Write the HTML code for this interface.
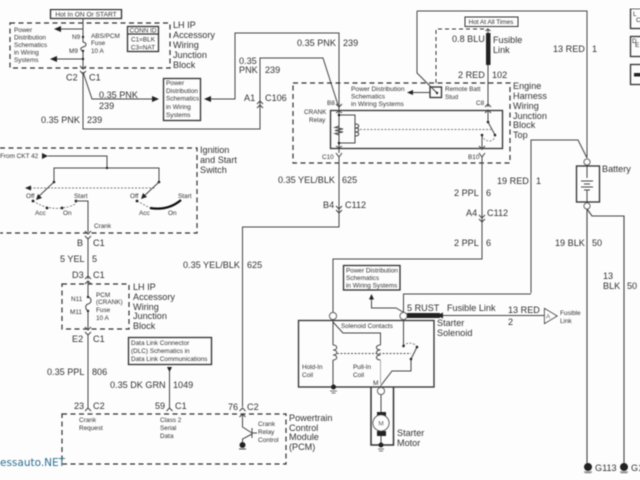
<!DOCTYPE html>
<html><head><meta charset="utf-8"><style>
html,body{margin:0;padding:0;background:#fff}
svg{display:block}
text{font-family:"Liberation Sans",sans-serif;fill:#333;font-size:9.1px}
.s{font-size:6.4px}
.m{font-size:6.6px}
.w{fill:none;stroke:#444;stroke-width:1}
.d{fill:none;stroke:#333;stroke-width:1.2;stroke-dasharray:5 3.5}
.t{fill:none;stroke:#555;stroke-width:.7;stroke-dasharray:2 1.5}
.b{fill:none;stroke:#333;stroke-width:1.3}
.k{fill:#222;stroke:none}
</style></head><body>
<svg width="640" height="480" viewBox="0 0 640 480" xmlns="http://www.w3.org/2000/svg">
<defs><filter id="f" x="0" y="0" width="100%" height="100%"><feGaussianBlur stdDeviation="0.4"/></filter></defs>
<rect width="640" height="480" fill="#fdfdfd"/>
<g filter="url(#f)">

<!-- top left block -->
<rect x="50.500" y="9.500" width="71" height="9" class="b"/>
<text x="86" y="16.500" text-anchor="middle" class="m">Hot In ON Or START</text>
<path d="M10 23H170V68H10Z" class="d"/>
<path d="M83 18V37M83 51V68M83 72V129H260V58H323L338 105M83 72L92 99H155M220 99H208M220 99H235V33H339V105" class="w"/>
<path d="M83 29H55M83 59H55" class="w"/>
<path class="k" d="M54 29L61 26V32ZM50 59L57 56V62ZM159 99L152 96V102ZM204 99L211 96V102Z"/>
<path d="M83 37V42C87 43 87 46 83 47C80 48 80 50 83 51" class="w"/>
<circle cx="83" cy="37" r="1.200" class="k"/><circle cx="83" cy="51" r="1.200" class="k"/><circle cx="83" cy="59" r="1.200" class="k"/>
<path d="M80 66L83 69L86 66M80 71L83 74L86 71" class="w"/>
<text x="14" y="32" class="s">Power</text><text x="14" y="39.500" class="s">Distribution</text><text x="14" y="47" class="s">Schematics</text><text x="14" y="54.500" class="s">in Wiring</text><text x="14" y="62" class="s">Systems</text>
<text x="72" y="39" class="s">N9</text><text x="69" y="53" class="s">M9</text>
<text x="91" y="38" class="s">ABS/PCM</text><text x="91" y="45" class="s">Fuse</text><text x="91" y="53" class="s">10 A</text>
<rect x="127.500" y="26.500" width="31" height="25" class="b"/><path d="M127.500 34H158.500" class="b"/>
<text x="143" y="32.500" text-anchor="middle" class="s">CONN ID</text><text x="143" y="41.500" text-anchor="middle" class="s">C1=BLK</text><text x="143" y="49.500" text-anchor="middle" class="s">C3=NAT</text>
<text x="173" y="28">LH IP</text><text x="173" y="38">Accessory</text><text x="173" y="48">Wiring</text><text x="173" y="58">Junction</text><text x="173" y="68">Block</text>
<text x="66" y="80.500">C2</text><text x="89" y="80.500">C1</text>
<text x="99" y="98">0.35 PNK</text><text x="99" y="109">239</text>
<text x="41" y="123">0.35 PNK</text><text x="87" y="123">239</text>
<rect x="163.500" y="78.500" width="37" height="42" class="b"/>
<text x="166" y="85" class="s">Power</text><text x="166" y="93" class="s">Distribution</text><text x="166" y="100.500" class="s">Schematics</text><text x="166" y="109" class="s">in Wiring</text><text x="166" y="117" class="s">Systems</text>

<!-- center labels -->
<text x="297" y="46">0.35 PNK</text><text x="343" y="46">239</text>
<text x="239" y="64">0.35</text><text x="239" y="73">PNK</text><text x="265" y="73">239</text>
<text x="244" y="101">A1</text><text x="265" y="101">C106</text>
<path d="M257 104L260 101L263 104M257 108L260 105L263 108" class="w"/>

<!-- engine block -->
<path d="M293 83H510V163H293Z" class="d"/>
<path d="M436 83V29H488" class="d" style="stroke-width:1;stroke-dasharray:4 3"/>
<rect x="330.500" y="110.500" width="172" height="38" class="b"/>
<path d="M339 105V153M339 158V190" class="w"/>
<path d="M336 104L339 107L342 104" class="w"/>
<path d="M339 115H355V143H339" class="w"/>
<path d="M355 124C360 124 360 128 355 128C360 128 360 132 355 132C360 132 360 136 355 136" class="w"/>
<path d="M339 126L335 127.500L343 129L335 130.500L343 132L335 133.500L339 135" class="w"/>
<circle cx="339" cy="115" r="1.300" class="k"/><circle cx="339" cy="143" r="1.300" class="k"/>
<path d="M336 113L339 111L342 113M336 146L339 148L342 146M336 153L339 157L342 153" class="w"/>
<path d="M360 129.500H491" class="t"/>
<text x="351" y="91" class="m">Power Distribution</text><text x="351" y="98.500" class="m">Schematics</text><text x="351" y="106" class="m">in Wiring Systems</text>
<path d="M408 92.500H430" class="w"/><path class="k" d="M407 92.500L413 90V95Z"/>
<text x="327" y="105" class="s">B8</text><text x="304" y="114" class="s">CRANK</text><text x="309" y="122" class="s">Relay</text><text x="322" y="159" class="s">C10</text>
<rect x="430" y="87" width="11.500" height="10.500" class="b"/>
<path d="M417 11V73L437 93M417 11H587V158" class="w"/>
<circle cx="437" cy="93" r="1.200" class="k"/>
<text x="445" y="91" class="s">Remote Batt</text><text x="445" y="99" class="s">Stud</text>

<rect x="465" y="17" width="53" height="9.500" class="b" style="stroke-width:1"/>
<text x="491" y="24" text-anchor="middle" class="s">Hot At All Times</text>
<path d="M488 29V33M488 65V107" class="w"/>
<rect x="486" y="33" width="4.500" height="32" class="k"/>
<path d="M485.500 31L488 29L490.500 31" class="w"/>
<text x="452" y="42">0.8 BLU</text><text x="493" y="43">Fusible</text><text x="493" y="53">Link</text>
<text x="458" y="78">2 RED</text><text x="492" y="78">102</text>
<text x="476" y="105" class="s">C8</text>
<path d="M485 107L488 104L491 107M485 113L488 110L491 113" class="w"/>
<path d="M488 110V122L495 135M482 135V150" class="w"/>
<path d="M482 135C484 143 495 143 495 135" class="t"/>
<circle cx="488" cy="122" r="1.300" class="k"/><circle cx="495" cy="135" r="1.300" class="k"/><circle cx="482" cy="135" r="1.300" class="k"/>
<path d="M479 146L482 149L485 146M479 153L482 157L485 153" class="w"/>
<text x="468" y="159" class="s">B10</text>
<text x="513" y="89">Engine</text><text x="513" y="99">Harness</text><text x="513" y="109">Wiring</text><text x="513" y="119">Junction</text><text x="513" y="128">Block</text><text x="513" y="138">Top</text>
<text x="553" y="52">13 RED</text><text x="592" y="52">1</text>

<!-- wires mid -->
<text x="278" y="183">0.35 YEL/BLK</text><text x="342" y="183">625</text>
<text x="323" y="208">B4</text><text x="345" y="208">C112</text>
<path d="M339 157V227H242.500V407" class="w"/>
<path d="M336 206L339 209L342 206M336 210L339 213L342 210" class="w"/>
<text x="183" y="268">0.35 YEL/BLK</text><text x="247" y="268">625</text>
<text x="454" y="196">2 PPL</text><text x="486" y="196">6</text>
<text x="466" y="216">A4</text><text x="487" y="216">C112</text>
<text x="454" y="246">2 PPL</text><text x="486" y="246">6</text>
<path d="M482 157V259H333V312" class="w"/>
<path d="M479 215L482 218L485 215M479 219L482 222L485 219" class="w"/>

<!-- Battery -->
<path d="M531 293V140H578L587 158" class="w"/>
<circle cx="587" cy="162" r="3" fill="#fff" stroke="#444"/>
<rect x="576.500" y="166" width="23" height="36" class="b"/>
<path d="M587 166V178M581 181H593M584 184H590M581 187H593M584 190H590M587 190V202" class="w"/>
<text x="602" y="172">Battery</text>
<circle cx="587" cy="206" r="3" fill="#fff" stroke="#444"/>
<text x="497" y="184">19 RED</text><text x="536" y="184">1</text>
<text x="555" y="246">19 BLK</text><text x="592" y="246">50</text>
<path d="M587 209V465M587 209L592 216H624V465" class="w" style="stroke-width:1.100"/>
<text x="603" y="279">13</text><text x="603" y="289">BLK</text><text x="627" y="289">50</text>
<path class="k" d="M584 467a4 4 0 0 1 8 0a4 4 0 0 1-8 0ZM620 467a4 4 0 0 1 8 0a4 4 0 0 1-8 0Z"/>
<path d="M584 472H592M585 473.500H591M620 472H628M621 473.500H627" class="w" style="stroke-width:.7"/>
<text x="595" y="471">G113</text><text x="631" y="471">G1</text>

<!-- right legend -->
<rect x="630.500" y="8.500" width="14" height="20" class="b"/><text x="633" y="16" class="s">L</text><text x="636" y="22" class="m">C</text>
<rect x="630.500" y="36.500" width="14" height="20" class="b"/><text x="632" y="43" class="s">D</text><text x="635" y="47" class="m">E</text>
<rect x="630.500" y="64.500" width="14" height="20" class="b"/><rect x="634" y="73" width="8" height="3.500" class="k"/>

<!-- Ignition -->
<path d="M0 148H197V233H0" class="d"/>
<text x="0" y="158" class="s">From CKT 42</text>
<path class="k" d="M48 156L42 153V159Z"/>
<path d="M48 156H107V168M54 182V168H159V182M54 182L37 198M159 182L142 198" class="w"/>
<circle cx="107" cy="168" r="1.200" class="k"/><circle cx="54" cy="182" r="1.300" class="k"/><circle cx="159" cy="182" r="1.300" class="k"/>
<path class="k" d="M36 200L38 194L42 198ZM141 199L143 193L147 197Z"/>
<path d="M30 188H155" class="t"/><path class="k" d="M25 188L31 185.500V190.500Z"/>
<path d="M33 201Q47 210 62 208T76 201M137 201L150 208" class="t"/>
<circle cx="33" cy="201" r="1.400" class="k"/><circle cx="47" cy="208" r="1.400" class="k"/><circle cx="62" cy="208" r="1.400" class="k"/><circle cx="76" cy="201" r="1.400" class="k"/><circle cx="137" cy="201" r="1.400" class="k"/>
<path d="M150 208Q168 211 181 200" fill="none" stroke="#111" stroke-width="2.200"/>
<text x="26" y="198" class="s">Off</text><text x="35" y="215" class="s">Acc</text><text x="63" y="215" class="s">On</text><text x="74" y="198" class="s">Start</text>
<text x="130" y="198" class="s">Off</text><text x="139" y="215" class="s">Acc</text><text x="168" y="215" class="s">On</text><text x="178" y="198" class="s">Start</text>
<path d="M76 201H88V232" class="w"/>
<text x="94" y="228" class="s">Crank</text>
<text x="200" y="153">Ignition</text><text x="200" y="163">and Start</text><text x="200" y="173">Switch</text>
<path d="M85 231L88 234L91 231M85 236L88 239L91 236" class="w"/>
<path d="M88 238V279" class="w"/>
<text x="77" y="246">B</text><text x="93" y="246">C1</text>
<text x="60" y="262">5 YEL</text><text x="92" y="262">5</text>
<text x="72" y="278">D3</text><text x="93" y="278">C1</text>
<path d="M85 279L88 276L91 279M85 284L88 281L91 284" class="w"/>

<!-- LH IP lower -->
<path d="M62 284H129V329H62Z" class="d"/>
<path d="M88 281V297C92 298 92 303 88 304C85 305 85 309 88 311V329" class="w"/>
<circle cx="88" cy="297" r="1.200" class="k"/><circle cx="88" cy="311" r="1.200" class="k"/>
<text x="71" y="301" class="s">N11</text><text x="70" y="314" class="s">M11</text>
<text x="96" y="297" class="s">PCM</text><text x="96" y="304" class="s">(CRANK)</text><text x="96" y="312" class="s">Fuse</text><text x="96" y="320" class="s">10 A</text>
<text x="133" y="290">LH IP</text><text x="133" y="300">Accessory</text><text x="133" y="310">Wiring</text><text x="133" y="319">Junction</text><text x="133" y="329">Block</text>
<path d="M85 327L88 330L91 327M85 332L88 335L91 332" class="w"/>
<path d="M88 334V408" class="w"/>
<text x="72" y="342">E2</text><text x="93" y="342">C1</text>
<text x="47" y="375">0.35 PPL</text><text x="92" y="375">806</text>
<text x="74" y="409">23</text><text x="93" y="409">C2</text>
<text x="155" y="409">59</text><text x="175" y="409">C1</text>
<text x="228" y="410">76</text><text x="247" y="410">C2</text>
<path d="M85 411L88 408L91 411M166.500 411L169.500 408L172.500 411M239.500 411L242.500 408L245.500 411M239.500 417L242.500 414L245.500 417" class="w"/>
<rect x="128.500" y="337.500" width="83" height="27" class="b"/>
<text x="131" y="345" class="s">Data Link Connector</text><text x="131" y="353" class="s">(DLC) Schematics in</text><text x="131" y="361" class="s">Data Link Communications</text>
<path d="M169.500 369V408" class="w"/><path class="k" d="M169.500 372L167 367H172Z"/>
<text x="110" y="388">0.35 DK GRN</text><text x="173" y="388">1049</text>

<!-- PCM -->
<path d="M62 414H286V464H62Z" class="d"/>
<text x="79" y="422" class="s">Crank</text><text x="79" y="430" class="s">Request</text>
<text x="160" y="422" class="s">Class 2</text><text x="160" y="430" class="s">Serial</text><text x="160" y="438" class="s">Data</text>
<text x="258" y="426" class="s">Crank</text><text x="258" y="434" class="s">Relay</text><text x="258" y="442" class="s">Control</text>
<path d="M242.500 414V427L252 433M252 428V438M252 433H257M252 434L242.500 439V446" class="w"/>
<circle cx="242.500" cy="445" r="3" class="k"/><path d="M239 449H246" class="w"/>
<text x="289" y="421">Powertrain</text><text x="289" y="431">Control</text><text x="289" y="440">Module</text><text x="289" y="450">(PCM)</text>
<text x="0" y="466" style="font-family:'DejaVu Sans',sans-serif;font-size:10.500px;fill:#2b6f8f">essauto.NET</text>

<!-- Solenoid -->
<rect x="298.500" y="320.500" width="135.500" height="66.500" class="b"/>
<circle cx="333" cy="316" r="3.500" fill="#fff" stroke="#444"/>
<circle cx="403.500" cy="316" r="3.500" fill="#fff" stroke="#444"/>
<path d="M403.500 312V294H531" class="w"/>
<rect x="407" y="313" width="33" height="5" class="k"/>
<path d="M440 315.500H544" class="w"/>
<path class="k" d="M437 315.500L443 312.500V318.500Z"/>
<text x="407" y="311">5 RUST</text><text x="447" y="311">Fusible Link</text>
<text x="508" y="313">13 RED</text><text x="508" y="325">2</text>
<path d="M544.500 308.500V323.500L557 316Z" fill="#fff" stroke="#333"/>
<text x="546" y="318.500" class="s">A</text>
<text x="560" y="315" class="s">Fusible</text><text x="560" y="323" class="s">Link</text>
<text x="437" y="326">Starter</text><text x="437" y="336">Solenoid</text>
<rect x="343.500" y="265.500" width="56.500" height="24.500" class="b"/>
<text x="346" y="272.500" class="s">Power Distribution</text><text x="346" y="280" class="s">Schematics</text><text x="346" y="287.500" class="s">in Wiring Systems</text>
<path d="M403 312L396 308H371.500V298" class="w"/><path class="k" d="M371.500 294L369 299.500H374Z"/>
<path d="M333 320V345M333 360V387M333 322L343 333H380.500V345" class="w"/>
<path d="M333 345C338 345 338 350 333 350C338 350 338 355 333 355C338 355 338 360 333 360" class="w"/>
<path d="M380.500 345C375 345 375 350 380.500 350C375 350 375 355 380.500 355C375 355 375 360 380.500 360" class="w"/>
<path d="M380.500 360V384" fill="none" stroke="#aaa"/>
<path d="M337 353.500H411" class="t" style="stroke-width:.9"/>
<path d="M403.500 320V346M417 347L411 359V371H392L380.500 386" class="w"/>
<path d="M403.500 346C406 342 414 342 417 347" class="t"/>
<circle cx="403.500" cy="346" r="1.300" class="k"/><circle cx="417" cy="347" r="1.300" class="k"/><circle cx="411" cy="359" r="1.300" class="k"/>
<text x="341" y="328" class="s">Solenoid Contacts</text>
<text x="302" y="369" class="s">Hold-In</text><text x="302" y="377" class="s">Coil</text>
<text x="353" y="369" class="s">Pull-In</text><text x="353" y="377" class="s">Coil</text>
<text x="373" y="385" class="m">M</text>
<circle cx="333.500" cy="387" r="2.500" class="k"/><path d="M330 391H337M331.500 393H335.500" class="w" style="stroke-width:.7"/>
<path d="M371 387V445H393.500V387" class="b" style="stroke-width:1.500"/>
<circle cx="381" cy="391" r="3.500" fill="#fff" stroke="#444"/>
<path d="M381 395V445" class="w"/>
<rect x="377" y="412" width="9" height="5" class="k"/><rect x="377" y="431" width="9" height="5" class="k"/>
<circle cx="381" cy="423" r="8" fill="#fff" stroke="#444"/>
<text x="381" y="425.500" text-anchor="middle" class="s">M</text>
<circle cx="381" cy="445" r="2.500" class="k"/><path d="M378 449H384M379 451H383" class="w" style="stroke-width:.7"/>
<text x="397" y="436">Starter</text><text x="397" y="446">Motor</text>
</g>
</svg>
</body></html>
